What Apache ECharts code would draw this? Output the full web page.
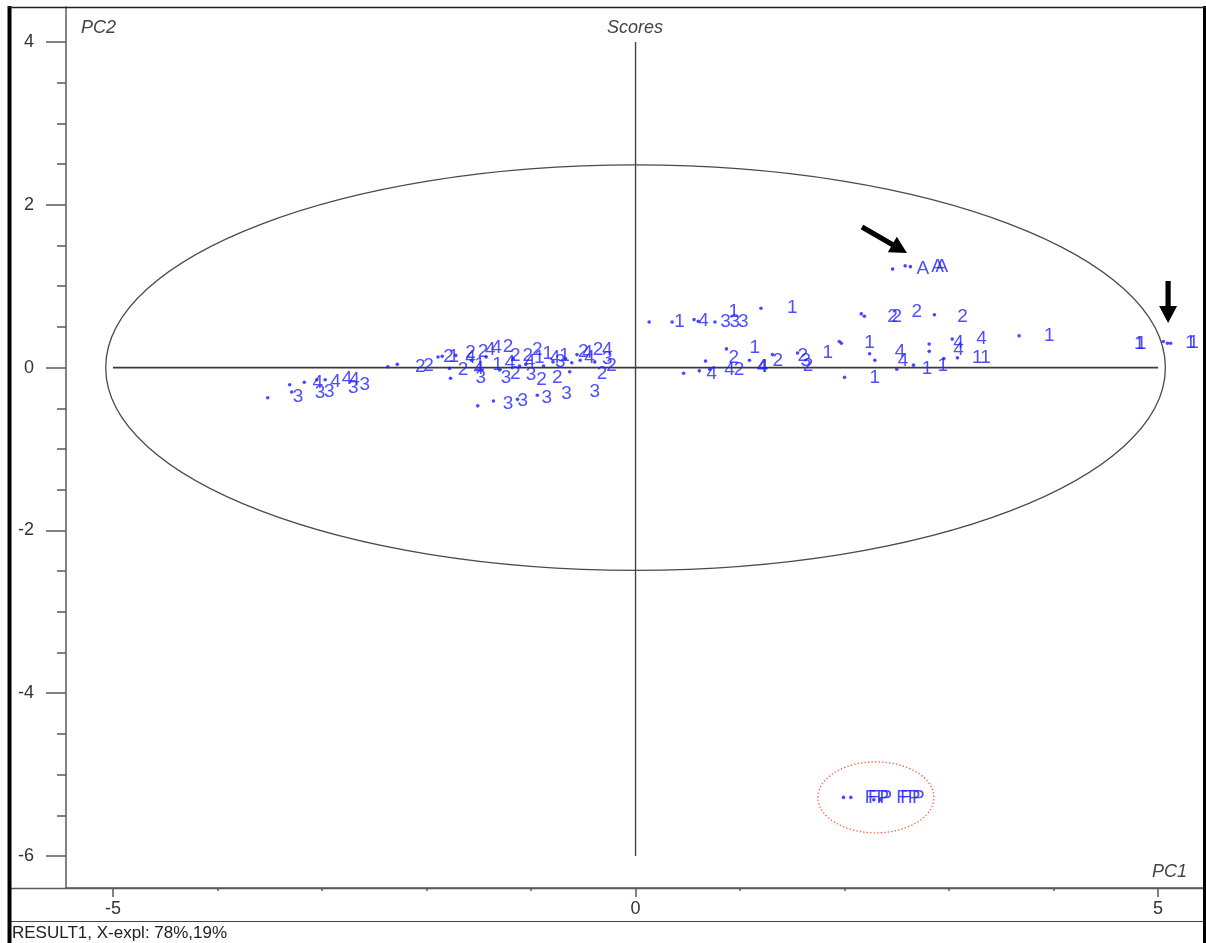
<!DOCTYPE html>
<html>
<head>
<meta charset="utf-8">
<script src="https://cdn.jsdelivr.net/npm/echarts@6/dist/echarts.min.js"></script>
<style>
  html, body { margin: 0; padding: 0; background: #fff; }
  #chart { width: 1206px; height: 943px; }
</style>
</head>
<body>
<div id="chart"></div>
<script>
// PCA scores, PC1 vs PC2 (X-explained 78%, 19%)
const scoreDots = [
  [-3.52,-0.37], [-3.31,-0.21], [-3.29,-0.30], [-3.17,-0.18], [-3.05,-0.15], [-2.97,-0.15],
  [-2.37,0.01], [-2.28,0.04], [-1.89,0.13], [-1.85,0.14], [-1.78,-0.01], [-1.77,-0.13],
  [-1.72,0.15], [-1.57,0.09], [-1.43,0.13], [-1.30,-0.03], [-1.17,0.11], [-1.11,0.02],
  [-1.05,0.04], [-0.88,0.02], [-0.79,0.07], [-0.67,0.11], [-0.61,0.06], [-0.63,-0.05],
  [-0.53,0.09], [-0.39,0.07], [-0.56,0.16], [-1.51,-0.47], [-1.36,-0.41], [-1.13,-0.39], [-0.94,-0.34],
  [0.13,0.56], [0.35,0.56], [0.56,0.59], [0.60,0.57], [0.76,0.56], [1.20,0.73],
  [0.87,0.23], [0.67,0.08], [0.46,-0.07], [0.61,-0.04], [0.71,-0.02], [1.09,0.09],
  [1.31,0.16], [1.55,0.18], [1.95,0.32],
  [2.16,0.66], [2.19,0.63], [2.86,0.65],
  [1.97,0.30], [2.24,0.17], [2.29,0.09], [2.00,-0.12], [2.81,0.29], [2.81,0.20],
  [2.50,-0.02], [2.66,0.03], [2.95,0.11], [3.03,0.35], [3.08,0.12], [3.67,0.39],
  [5.05,0.32], [5.09,0.30], [5.12,0.30],
  [2.46,1.21], [2.58,1.25], [2.63,1.24],
  [1.99,-5.28], [2.06,-5.28], [2.28,-5.31], [2.34,-5.31]
];

const scoreLabels = [
  [-3.23,-0.36,'3'],
  [-3.04,-0.19,'4'], [-3.02,-0.31,'3'], [-2.93,-0.30,'3'], [-2.87,-0.17,'4'],
  [-2.76,-0.14,'4'], [-2.69,-0.15,'4'], [-2.70,-0.25,'3'], [-2.59,-0.21,'3'],
  [-2.06,0.01,'2'], [-1.98,0.02,'2'],
  [-1.79,0.13,'2'], [-1.74,0.13,'1'], [-1.65,-0.03,'2'],
  [-1.58,0.18,'2'], [-1.58,0.12,'4'], [-1.46,0.20,'2'], [-1.39,0.22,'4'], [-1.33,0.24,'4'],
  [-1.22,0.26,'2'], [-1.15,0.15,'2'],
  [-1.49,0.04,'1'], [-1.50,-0.02,'4'], [-1.48,-0.13,'3'],
  [-1.32,0.04,'1'], [-1.20,0.06,'4'], [-1.24,-0.13,'3'], [-1.15,-0.08,'2'],
  [-1.03,0.15,'2'], [-1.01,0.07,'4'], [-1.00,-0.09,'3'], [-0.94,0.22,'2'], [-0.92,0.12,'1'], [-0.90,-0.15,'2'],
  [-0.84,0.17,'1'], [-0.77,0.12,'4'], [-0.75,-0.12,'2'], [-0.72,0.07,'3'], [-0.68,0.14,'1'],
  [-0.50,0.19,'2'], [-0.46,0.18,'4'], [-0.44,0.12,'4'], [-0.36,0.22,'2'], [-0.27,0.22,'4'],
  [-0.27,0.11,'3'], [-0.32,-0.08,'2'], [-0.23,0.02,'2'],
  [-1.22,-0.45,'3'], [-1.08,-0.41,'3'], [-0.85,-0.37,'3'], [-0.66,-0.32,'3'], [-0.39,-0.30,'3'],
  [0.42,0.56,'1'], [0.65,0.57,'4'], [0.86,0.56,'3'], [0.94,0.68,'1'], [0.95,0.56,'3'], [1.03,0.56,'3'], [1.50,0.73,'1'],
  [1.14,0.24,'1'], [0.94,0.12,'2'], [0.73,-0.07,'4'], [0.90,-0.03,'4'], [0.99,-0.03,'2'],
  [1.21,0.01,'4'], [1.22,0.01,'4'], [1.36,0.09,'2'], [1.60,0.14,'2'], [1.63,0.09,'3'], [1.65,0.02,'2'], [1.84,0.18,'1'],
  [2.46,0.63,'2'], [2.50,0.62,'2'], [2.69,0.68,'2'], [3.13,0.62,'2'],
  [2.24,0.31,'1'], [2.29,-0.12,'1'],
  [2.53,0.19,'4'], [2.56,0.08,'4'], [2.79,-0.01,'1'], [2.94,0.02,'1'],
  [3.09,0.30,'4'], [3.09,0.22,'4'], [3.31,0.35,'4'], [3.27,0.12,'1'], [3.35,0.12,'1'],
  [3.96,0.39,'1'],
  [4.82,0.29,'1'], [4.84,0.29,'1'], [5.31,0.30,'1'], [5.34,0.30,'1'],
  [2.75,1.22,'A'], [2.89,1.24,'A'], [2.93,1.24,'A'],
  [2.31,-5.29,'FP'], [2.34,-5.29,'FP'], [2.61,-5.29,'FP'], [2.65,-5.29,'FP']
];

const xMajorTicks = [-5, 0, 5];
const xMinorTicks = [-5, -4, -3, -2, -1, 0, 1, 2, 3, 4, 5];
const yMajorTicks = [-6, -4, -2, 0, 2, 4];
const yMinorTicks = [-6, -5.5, -5, -4.5, -4, -3.5, -3, -2.5, -2, -1.5, -1, -0.5,
                     0, 0.5, 1, 1.5, 2, 2.5, 3, 3.5, 4];
const xRange = [-5.45, 5.43];
const yRange = [-6.393, 4.43];

// zero lines through the origin
const pc1ZeroLine = [[-5, 0], [5, 0]];
const pc2ZeroLine = [[0, 4], [0, -6]];

// Hotelling ellipse and the outlier group ring
const hotelling = { cx: 0, cy: 0, rx: 5.07, ry: 2.49 };
const fpRing = { cx: 2.30, cy: -5.28, rx: 0.555, ry: 0.436 };

// pointer arrows: [tail, tip]
const pointers = [
  [[2.167, 1.727], [2.598, 1.408]],
  [[5.096, 1.064], [5.096, 0.548]]
];

const FONT = 'Liberation Sans, Arial, sans-serif';
const AXIS_GREY = '#5a5a5a';

const chart = echarts.init(document.getElementById('chart'), null, { renderer: 'canvas' });

const baseX = {
  type: 'value', min: xRange[0], max: xRange[1], position: 'bottom',
  splitLine: { show: false }
};
const baseY = {
  type: 'value', min: yRange[0], max: yRange[1], position: 'left',
  splitLine: { show: false }
};

chart.setOption({
  animation: false,
  backgroundColor: '#fff',
  grid: { left: 66, right: 3, top: 7, bottom: 55, containLabel: false },
  xAxis: [
    Object.assign({}, baseX, {
      axisLine: { show: true, onZero: false, lineStyle: { color: AXIS_GREY, width: 1.5 } },
      axisTick: { show: true, customValues: xMinorTicks, length: 3, lineStyle: { color: AXIS_GREY, width: 1.5 } },
      axisLabel: { customValues: xMajorTicks, margin: 12, color: '#333', fontSize: 18, fontFamily: FONT }
    }),
    Object.assign({}, baseX, {
      axisLine: { show: false, onZero: false },
      axisTick: { show: true, customValues: xMajorTicks, length: 9, lineStyle: { color: AXIS_GREY, width: 1.5 } },
      axisLabel: { show: false }
    })
  ],
  yAxis: [
    Object.assign({}, baseY, {
      axisLine: { show: true, onZero: false, lineStyle: { color: AXIS_GREY, width: 1.5 } },
      axisTick: { show: true, customValues: yMinorTicks, length: 9, lineStyle: { color: AXIS_GREY, width: 1.5 } },
      axisLabel: { customValues: yMajorTicks, margin: 32, color: '#333', fontSize: 18, fontFamily: FONT }
    }),
    Object.assign({}, baseY, {
      axisLine: { show: false, onZero: false },
      axisTick: { show: true, customValues: yMajorTicks, length: 20, lineStyle: { color: AXIS_GREY, width: 1.5 } },
      axisLabel: { show: false }
    })
  ],
  series: [
    {
      type: 'line', data: pc1ZeroLine, symbol: 'none', silent: true,
      lineStyle: { color: '#3a3a3a', width: 1.8 }, z: 1
    },
    {
      type: 'line', data: pc2ZeroLine, symbol: 'none', silent: true,
      lineStyle: { color: '#444', width: 1.4 }, z: 1
    },
    {
      type: 'scatter', data: scoreDots, symbol: 'circle', symbolSize: 3.6,
      itemStyle: { color: '#1c1cff' }, silent: true, z: 3
    },
    {
      type: 'scatter', data: scoreLabels, symbolSize: 1, silent: true, z: 4,
      itemStyle: { color: 'rgba(0,0,0,0)' },
      label: {
        show: true, position: 'inside',
        formatter: p => p.data[2],
        color: '#2222ff', fontSize: 19, fontFamily: FONT
      }
    }
  ]
});

// annotations placed through the chart's own coordinate system
const toPx = p => chart.convertToPixel({ gridIndex: 0 }, p);

function ellipseShape(e) {
  const c = toPx([e.cx, e.cy]);
  const ex = toPx([e.cx + e.rx, e.cy]);
  const ey = toPx([e.cx, e.cy + e.ry]);
  return { cx: c[0], cy: c[1], rx: Math.abs(ex[0] - c[0]), ry: Math.abs(c[1] - ey[1]) };
}

function arrowPoints(tail, tip) {
  const a = toPx(tail), b = toPx(tip);
  const dx = b[0] - a[0], dy = b[1] - a[1];
  const len = Math.hypot(dx, dy);
  const ux = dx / len, uy = dy / len, nx = -uy, ny = ux;
  const shaft = 2.6, head = 9, headLen = 17;
  const nk = [b[0] - ux * headLen, b[1] - uy * headLen];
  return [
    [a[0] + nx * shaft, a[1] + ny * shaft],
    [nk[0] + nx * shaft, nk[1] + ny * shaft],
    [nk[0] + nx * head, nk[1] + ny * head],
    [b[0], b[1]],
    [nk[0] - nx * head, nk[1] - ny * head],
    [nk[0] - nx * shaft, nk[1] - ny * shaft],
    [a[0] - nx * shaft, a[1] - ny * shaft]
  ];
}

const graphics = [
  { type: 'ellipse', shape: ellipseShape(hotelling), silent: true, z: 2,
    style: { fill: null, stroke: '#4a4a4a', lineWidth: 1.3 } },
  { type: 'ellipse', shape: ellipseShape(fpRing), silent: true, z: 2,
    style: { fill: null, stroke: '#ff5533', lineWidth: 1.3, lineDash: [1.3, 2.2] } },
  // frame
  { type: 'line', shape: { x1: 9.5, y1: 6, x2: 9.5, y2: 943 }, style: { stroke: '#000', lineWidth: 4 }, z: 10 },
  { type: 'line', shape: { x1: 1204.5, y1: 6, x2: 1204.5, y2: 943 }, style: { stroke: '#000', lineWidth: 3 }, z: 10 },
  { type: 'line', shape: { x1: 8, y1: 7.5, x2: 1206, y2: 7.5 }, style: { stroke: '#222', lineWidth: 1.6 }, z: 10 },
  { type: 'line', shape: { x1: 8, y1: 888.5, x2: 1203, y2: 888.5 }, style: { stroke: AXIS_GREY, lineWidth: 1.5 }, z: 9 },
  { type: 'line', shape: { x1: 8, y1: 921.5, x2: 1203, y2: 921.5 }, style: { stroke: '#444', lineWidth: 1.2 }, z: 9 },
  // titles
  { type: 'text', x: 635, y: 28, silent: true, z: 10,
    style: { text: 'Scores', fill: '#444', font: 'italic 18px ' + FONT, align: 'center', verticalAlign: 'middle' } },
  { type: 'text', x: 81, y: 28, silent: true, z: 10,
    style: { text: 'PC2', fill: '#444', font: 'italic 18px ' + FONT, align: 'left', verticalAlign: 'middle' } },
  { type: 'text', x: 1152, y: 872, silent: true, z: 10,
    style: { text: 'PC1', fill: '#444', font: 'italic 18px ' + FONT, align: 'left', verticalAlign: 'middle' } },
  { type: 'text', x: 12, y: 933, silent: true, z: 10,
    style: { text: 'RESULT1, X-expl: 78%,19%', fill: '#222', font: '17px ' + FONT, align: 'left', verticalAlign: 'middle' } }
];

pointers.forEach(([tail, tip]) => {
  graphics.push({
    type: 'polygon', silent: true, z: 8,
    shape: { points: arrowPoints(tail, tip) },
    style: { fill: '#000' }
  });
});

chart.setOption({ graphic: graphics });
</script>
</body>
</html>
